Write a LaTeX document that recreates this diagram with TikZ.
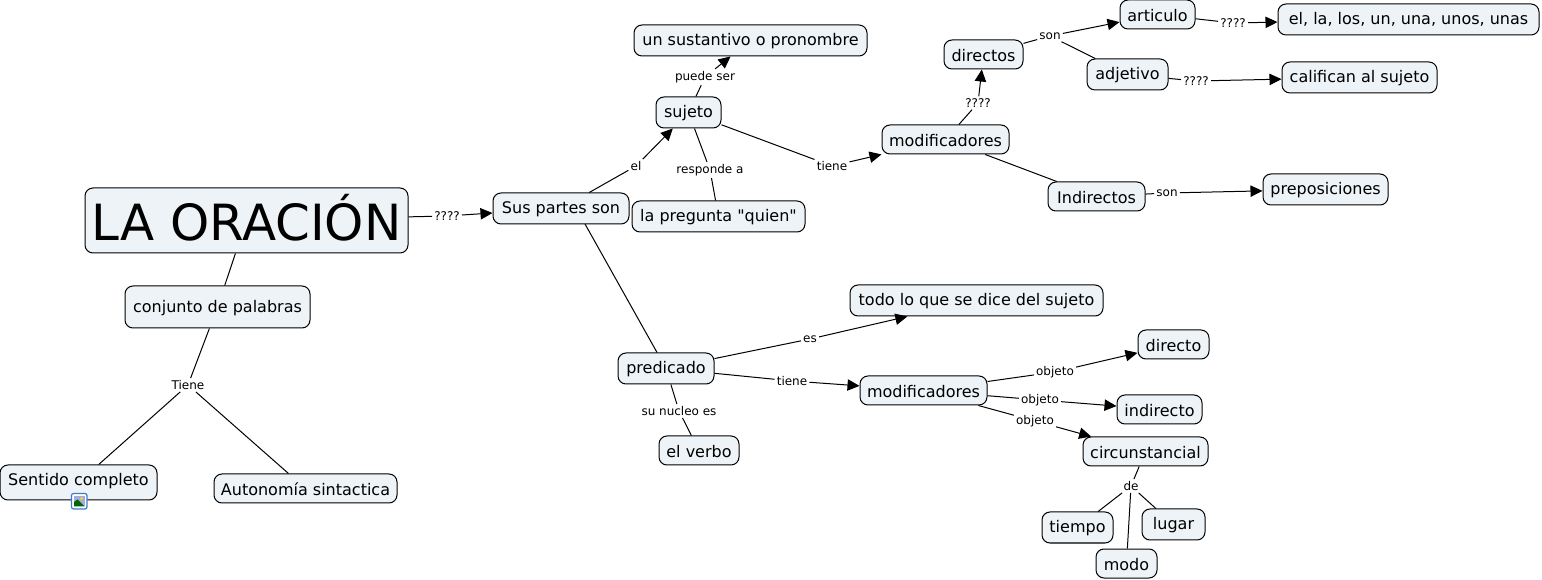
\documentclass[tikz,border=0pt]{standalone}
\usepackage{fontspec}
\setmainfont{DejaVu Sans}
\usetikzlibrary{arrows.meta}
\definecolor{conceptfill}{HTML}{EDF3F6}
\definecolor{iconblue}{HTML}{3D7CCB}
\tikzset{
  concept/.style 2 args={draw=black,fill=conceptfill,rounded corners=6pt,line width=0.75pt,inner sep=0pt,
    minimum width=#1*0.75pt,minimum height=#2*0.75pt,text height=10.8pt,text depth=2.6pt,font=\fontsize{12}{14}\selectfont},
  low/.style={text height=12.8pt},
  linking/.style={inner sep=1.5pt,yshift=-0.75pt,font=\fontsize{9}{11}\selectfont},
  line/.style={line width=0.75pt},
  link/.style={line width=0.75pt,-{Triangle[length=9pt,width=8.5pt]}}
}
\begin{document}
\begin{tikzpicture}[x=0.75pt,y=-0.75pt]
\useasboundingbox (0,0) rectangle (1542,580);
% concepts
\node[concept={323}{65},font=\fontsize{37.4}{40}\selectfont,text height=31pt,text depth=1pt] (oracion) at (246.5,220.5) {LA ORACIÓN};
\node[concept={185}{42}] (conjunto) at (217.5,307) {conjunto de palabras};
\node[concept={157}{35},text depth=7pt] (sentido) at (78.5,482.5) {Sentido completo};
\node[concept={183}{29},low] (autonomia) at (305.5,488.5) {Autonomía sintactica};
\node[concept={136}{31}] (partes) at (561,208.5) {Sus partes son};
\node[concept={65}{31}] (sujeto) at (688.5,112.5) {sujeto};
\node[concept={233}{31}] (sustantivo) at (750.5,40.5) {un sustantivo o pronombre};
\node[concept={173}{31}] (pregunta) at (718.5,216.5) {la pregunta \textquotedbl quien\textquotedbl};
\node[concept={127}{29},low] (modif1) at (945.5,139.5) {modificadores};
\node[concept={79}{29},low] (directos) at (983.5,54.5) {directos};
\node[concept={97}{29},low] (indirectos) at (1096.5,196.5) {Indirectos};
\node[concept={75}{29},low] (articulo) at (1157.5,14.5) {articulo};
\node[concept={81}{31}] (adjetivo) at (1127.5,74.5) {adjetivo};
\node[concept={261}{31}] (el) at (1408.5,19.5) {el, la, los, un, una, unos, unas};
\node[concept={155}{31}] (califican) at (1359.5,77.5) {califican al sujeto};
\node[concept={125}{31}] (preposiciones) at (1325.5,189.5) {preposiciones};
\node[concept={253}{31}] (todo) at (976.5,300.5) {todo lo que se dice del sujeto};
\node[concept={96}{31}] (predicado) at (666,368.5) {predicado};
\node[concept={80}{29},low] (verbo) at (699,450.5) {el verbo};
\node[concept={127}{29},low] (modif2) at (923.5,390.5) {modificadores};
\node[concept={71}{29},low] (directo) at (1173.5,344.5) {directo};
\node[concept={85}{29},low] (indirecto) at (1159.5,409.5) {indirecto};
\node[concept={125}{29},low] (circunstancial) at (1145.5,451.5) {circunstancial};
\node[concept={71}{31}] (tiempo) at (1077.5,527.5) {tiempo};
\node[concept={63}{31}] (lugar) at (1173.5,524.5) {lugar};
\node[concept={61}{29},low] (modo) at (1126.5,563.5) {modo};
% linking phrases
\node[linking] (l1) at (447,215) {????};
\node[linking] (l2) at (188,384) {Tiene};
\node[linking] (l3) at (636,165) {el};
\node[linking] (l4) at (705,76) {puede ser};
\node[linking] (l5) at (710,169) {responde a};
\node[linking] (l6) at (832,165) {tiene};
\node[linking] (l7) at (978,102) {????};
\node[linking] (l8) at (1050,35) {son};
\node[linking] (l9) at (1233,22) {????};
\node[linking] (l10) at (1196,80) {????};
\node[linking] (l11) at (1167,192) {son};
\node[linking] (l12) at (810,338) {es};
\node[linking] (l13) at (792,380) {tiene};
\node[linking] (l14) at (679,410) {su nucleo es};
\node[linking] (l15) at (1055,371) {objeto};
\node[linking] (l16) at (1040,399) {objeto};
\node[linking] (l17) at (1035,420) {objeto};
\node[linking] (l18) at (1131,485) {de};
\coordinate (partesout) at (585,224);
% connectors
\draw[line] (oracion) -- (l1);
\draw[link] (l1) -- (partes);
\draw[line] (oracion) -- (conjunto);
\draw[line] (conjunto) -- (l2);
\draw[line] (l2) -- (sentido);
\draw[line] (l2) -- (autonomia);
\draw[line] (partes) -- (l3);
\draw[link] (l3) -- (sujeto);
\draw[line] (partesout) -- (predicado);
\draw[line] (sujeto) -- (l4);
\draw[link] (l4) -- (sustantivo);
\draw[line] (sujeto) -- (l5);
\draw[line] (l5) -- (pregunta);
\draw[line] (sujeto) -- (l6);
\draw[link] (l6) -- (modif1);
\draw[line] (modif1) -- (l7);
\draw[link] (l7) -- (directos);
\draw[line] (modif1) -- (indirectos);
\draw[line] (directos) -- (l8);
\draw[link] (l8) -- (articulo);
\draw[line] (l8) -- (adjetivo);
\draw[line] (articulo) -- (l9);
\draw[link] (l9) -- (el);
\draw[line] (adjetivo) -- (l10);
\draw[link] (l10) -- (califican);
\draw[line] (indirectos) -- (l11);
\draw[link] (l11) -- (preposiciones);
\draw[line] (predicado) -- (l12);
\draw[link] (l12) -- (todo);
\draw[line] (predicado) -- (l13);
\draw[link] (l13) -- (modif2);
\draw[line] (predicado) -- (l14);
\draw[line] (l14) -- (verbo);
\draw[line] (modif2) -- (l15);
\draw[link] (l15) -- (directo);
\draw[line] (modif2) -- (l16);
\draw[link] (l16) -- (indirecto);
\draw[line] (modif2) -- (l17);
\draw[link] (l17) -- (circunstancial);
\draw[line] (circunstancial) -- (l18);
\draw[line] (l18) -- (tiempo);
\draw[line] (l18) -- (lugar);
\draw[line] (l18) -- (modo);
% image icon
\draw[iconblue,fill=white,rounded corners=1.5pt,line width=0.9pt] (71.5,493.5) rectangle (87,509);
\fill[cyan!25!blue!35] (74,496) rectangle (84.5,506.5);
\fill[yellow!80!orange] (81.5,498.5) circle (1.5);
\fill[green!40!black] (74,506.5) -- (74,502) -- (77.5,499.5) -- (84.5,506.5) -- cycle;
\end{tikzpicture}
\end{document}
